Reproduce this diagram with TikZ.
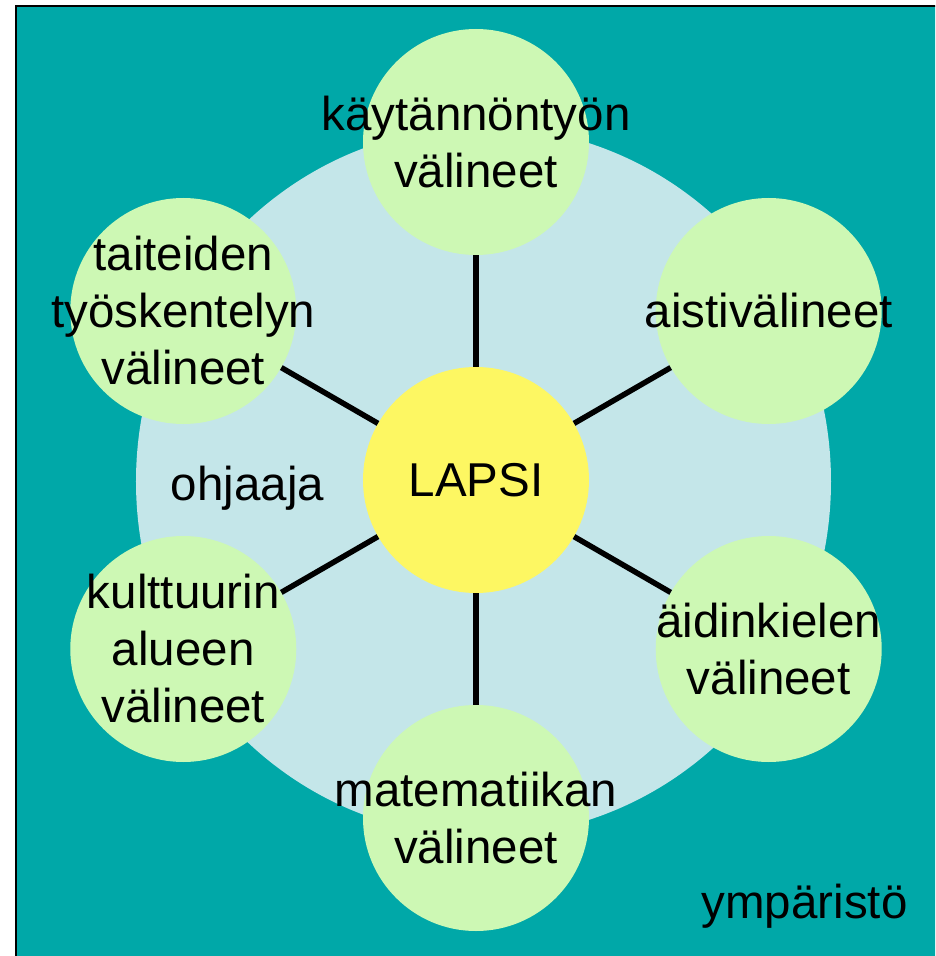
\documentclass[tikz,border=0pt]{standalone}
\usepackage{fontspec}
\setmainfont{Liberation Sans}
\usetikzlibrary{shapes.geometric}
\definecolor{ymparisto}{RGB}{0,168,168}
\definecolor{ohjaajasin}{RGB}{196,230,233}
\definecolor{valinevihrea}{RGB}{205,248,180}
\definecolor{lapsikelta}{RGB}{253,247,98}

\begin{document}
\begin{tikzpicture}[x=1pt,y=1pt,every node/.style={font=\fontsize{47.5}{57}\selectfont,inner sep=0pt,align=center},
    pallo/.style={circle,minimum size=226pt,fill=valinevihrea},
    spoke/.style={line width=5.5pt}]
      \useasboundingbox (-476,480) rectangle (459,-476);
      \fill[white] (-476,480) rectangle (459,-476);
      \begin{scope}
        \clip (-476,480) rectangle (459,-476);
        \draw[fill=ymparisto,line width=2pt] (-460,474) rectangle (490,-500);
      \end{scope}
      \node[ellipse,fill=ohjaajasin,minimum width=695pt,minimum height=710pt] (ohj) at (7.5,-1.5) {};
      \node[anchor=base] (ohjt) at (-228.5,-20) {ohjaaja};
      \node[anchor=base] (ymp) at (328.5,-438) {ympäristö};
      \node[circle,minimum size=226pt,fill=lapsikelta] (lapsi) at (0,0) {LAPSI};
      \node[pallo] (kayt) at (90:338) {};
      \node[pallo] (aisti) at (30:338) {};
      \node[pallo] (aidin) at (-30:338) {};
      \node[pallo] (mate) at (-90:338) {};
      \node[pallo] (kult) at (-150:338) {};
      \node[pallo] (taide) at (150:338) {};
      \node (kaytt) at (kayt) {käytännöntyön\\välineet};
      \node (aistit) at (aisti) {aistivälineet};
      \node (aidint) at (aidin) {äidinkielen\\välineet};
      \node (matet) at (mate) {matematiikan\\välineet};
      \node (kultt) at (kult) {kulttuurin\\alueen\\välineet};
      \node (taidet) at (taide) {taiteiden\\työskentelyn\\välineet};
      \draw[spoke] (lapsi)--(kayt);
      \draw[spoke] (lapsi)--(aisti);
      \draw[spoke] (lapsi)--(aidin);
      \draw[spoke] (lapsi)--(mate);
      \draw[spoke] (lapsi)--(kult);
      \draw[spoke] (lapsi)--(taide);
    \end{tikzpicture}
\end{document}
